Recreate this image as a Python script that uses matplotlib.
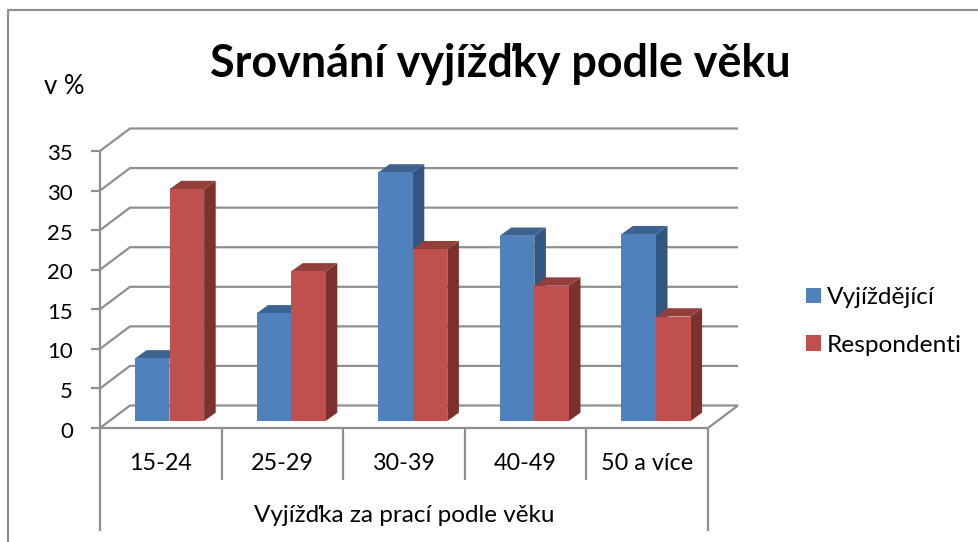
import matplotlib
matplotlib.use("Agg")
import matplotlib.pyplot as plt
from matplotlib.patches import Polygon, Patch, Rectangle
from matplotlib.lines import Line2D
from matplotlib.transforms import ScaledTranslation

plt.rcParams['font.family'] = ['Lato', 'DejaVu Sans']

categories = ["15-24", "25-29", "30-39", "40-49", "50 a více"]
vyjizdejici = [7.9, 13.6, 31.4, 23.4, 23.6]
respondenti = [29.3, 18.9, 21.7, 17.1, 13.2]
y_ticks = [0, 5, 10, 15, 20, 25, 30, 35]
title = "Srovnání vyjížďky podle věku"
y_unit = "v %"
group_label = "Vyjížďka za prací podle věku"
series_names = ["Vyjíždějící", "Respondenti"]

W, H = 979, 542
GRID = "#8F8F8F"
BLUE, BLUE_TOP, BLUE_SIDE = "#4F81BD", "#3F6391", "#325680"
RED, RED_TOP, RED_SIDE = "#C0504D", "#93403D", "#7C312F"

fig = plt.figure(figsize=(W / 100, H / 100), dpi=100, facecolor="white")
L, R, T, B = 100, 708, 151, 428
ax = fig.add_axes([L / W, 1 - B / H, (R - L) / W, (B - T) / H])
ax.set_xlim(0, 5)
ax.set_ylim(0, 35)
for s in ax.spines.values():
    s.set_visible(False)
ax.patch.set_visible(False)

px_x = 5 / (R - L)
px_y = 35 / (B - T)
WALL_X, WALL_Y = 30 * px_x, 22.5 * px_y
FLOOR_X, FLOOR_Y = 9.5 * px_x, 7 * px_y
BAR_X, BAR_Y = 11.6 * px_x, 8.3 * px_y
BAR_W = 34.6 * px_x
BAR_START = 25.4 * px_x
LW = 1.6


def line(xs, ys, z=1):
    ax.add_line(Line2D(xs, ys, color=GRID, lw=LW, clip_on=False, zorder=z,
                       solid_capstyle="butt"))


# walls and gridlines
for v in y_ticks:
    line([0, WALL_X, 5 + WALL_X], [v, v + WALL_Y, v + WALL_Y])
line([5, 5 + WALL_X], [0, WALL_Y])
line([0, 0], [0, 35], 2)
line([0, 5], [0, 0], 2)

# category dividers (below the axis, via axis-pixel offsets)
ax.set_xticks(range(6))
ax.set_xticklabels([])
ax.tick_params(axis="x", length=0)
for i in range(6):
    depth = 103 if i in (0, 5) else 51.5
    line([i, i], [0, -depth * px_y], 2)


def bar(i, offset, value, front, top, side, z):
    x0 = i + BAR_START + FLOOR_X + offset * BAR_W
    x1 = x0 + BAR_W
    y0 = FLOOR_Y
    y1 = FLOOR_Y + value
    ax.add_patch(Polygon([(x1, y0), (x1 + BAR_X, y0 + BAR_Y), (x1 + BAR_X, y1 + BAR_Y), (x1, y1)],
                         fc=side, ec="none", zorder=z, clip_on=False))
    ax.add_patch(Polygon([(x0, y1), (x1, y1), (x1 + BAR_X, y1 + BAR_Y), (x0 + BAR_X, y1 + BAR_Y)],
                         fc=top, ec="none", zorder=z, clip_on=False))
    ax.add_patch(Rectangle((x0, y0), BAR_W, value, fc=front, ec="none", zorder=z, clip_on=False))


for i in range(len(categories)):
    bar(i, 0, vyjizdejici[i], BLUE, BLUE_TOP, BLUE_SIDE, 3 + i * 2)
    bar(i, 1, respondenti[i], RED, RED_TOP, RED_SIDE, 4 + i * 2)

# axis ticks and labels
ax.set_yticks(y_ticks)
ax.tick_params(axis="y", length=6.5, width=LW, color=GRID, pad=13, labelsize=16, labelcolor="black")
shift = ScaledTranslation(0, -1.5 / 100, fig.dpi_scale_trans)
for lab in ax.get_yticklabels():
    lab.set_transform(lab.get_transform() + shift)

for i, c in enumerate(categories):
    ax.text(i + 0.5, -36 * px_y, c, ha="center", va="center", fontsize=16.8, color="black")
ax.text(2.5, -88 * px_y, group_label, ha="center", va="center", fontsize=17.5, color="black")

fig.text(500 / W, 1 - 63.5 / H, title, ha="center", va="center", fontsize=32.3, fontweight="bold", color="black")
fig.text(44 / W, 1 - 87 / H, y_unit, ha="left", va="center", fontsize=18.5, color="black")

handles = [Patch(fc=BLUE, ec="none"), Patch(fc=RED, ec="none")]
fig.legend(handles, series_names, loc="upper left", bbox_to_anchor=(806 / W, 1 - 287 / H),
           frameon=False, fontsize=17.6, handlelength=0.614, handleheight=0.614,
           handletextpad=0.25, labelspacing=1.09, borderpad=0, borderaxespad=0)

# outer chart border: only top and left edges are in frame
fig.add_artist(Line2D([8.5 / W, 8.5 / W, 1], [0, 1 - 9.5 / H, 1 - 9.5 / H], color=GRID, lw=LW,
                      transform=fig.transFigure))

fig.savefig("out.png", dpi=100)
